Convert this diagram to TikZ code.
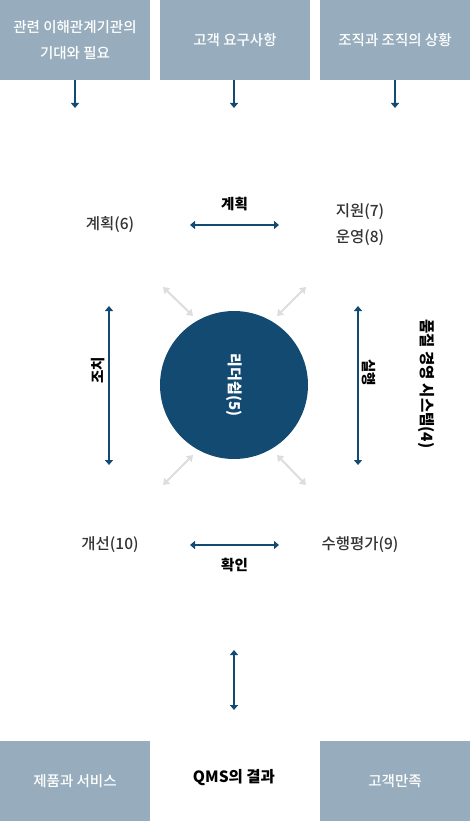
\documentclass[tikz,border=0pt]{standalone}
\usepackage{fontspec}
\setmainfont{Noto Sans CJK KR}
\newfontfamily\medfont{Noto Sans CJK KR Medium}
\usetikzlibrary{arrows.meta,positioning}
\definecolor{boxgray}{HTML}{97ADBD}
\definecolor{navy}{HTML}{134A72}
\definecolor{txtgray}{HTML}{333333}
\definecolor{hintgray}{HTML}{DDDDDD}

\begin{document}
\begin{tikzpicture}[x=1pt,y=-1pt,>={Triangle[width=8pt,length=5pt]},
  box/.style={fill=boxgray,minimum width=150pt,minimum height=80pt,inner sep=0pt,
    text=white,font=\medfont\fontsize{14.5}{26}\selectfont,align=center},
  lbl/.style={text=txtgray,font=\medfont\fontsize{15.5}{26}\selectfont},
  head/.style={text=black,font=\fontsize{14.5}{20}\selectfont\bfseries},
  flow/.style={<->,navy,line width=2pt},
  feed/.style={->,navy,line width=2pt},
  hint/.style={<->,hintgray,line width=2pt,>={Triangle[width=8pt,length=6pt]}}]
  \useasboundingbox (0,0) rectangle (470,821);
  % inputs
  \node[box] (needs) at (75,40) {관련 이해관계기관의\\기대와 필요};
  \node[box] (req) at (235,40) {고객 요구사항};
  \node[box] (ctx) at (395,40) {조직과 조직의 상황};
  \coordinate (needsin) at (75,108);
  \coordinate (reqin) at (234,108);
  \coordinate (ctxin) at (395,108);
  \draw[feed] (needs.south -| needsin) -- (needsin);
  \draw[feed] (req.south -| reqin) -- (reqin);
  \draw[feed] (ctx.south -| ctxin) -- (ctxin);
  % cycle
  \node[circle,fill=navy,minimum size=148pt,inner sep=0pt,rotate=-90,
    text=white,font=\fontsize{15}{20}\selectfont\bfseries] (lead) at (234,385) {리더쉽(5)};
  \node[lbl] (plan) at (110,225) {계획(6)};
  \node[lbl,align=center] (supp) at (360,225) {지원(7)\\운영(8)};
  \node[lbl] (impr) at (110,545) {개선(10)};
  \node[lbl] (eval) at (360,545) {수행평가(9)};
  \coordinate (pa) at (190,225);
  \coordinate (pb) at (279,225);
  \coordinate (ca) at (190,545);
  \coordinate (cb) at (279,545);
  \coordinate (aa) at (109,306);
  \coordinate (ab) at (109,465);
  \coordinate (da) at (358,306);
  \coordinate (db) at (358,465);
  \draw[flow] (pa) -- node[head,above=10pt] (plantxt) {계획} (pb);
  \draw[flow] (ca) -- node[head,below=9pt] (checktxt) {확인} (cb);
  \draw[flow] (aa) -- node[head,rotate=90,above=15pt] (acttxt) {조치} (ab);
  \draw[flow] (da) -- node[head,rotate=-90,above=13pt] (dotxt) {실행} (db);
  \node[head,font=\fontsize{15.5}{20}\selectfont\bfseries] [rotate=-90] (qms) at (426,384) {품질 경영 시스템(4)};
  % leadership links
  \coordinate (nwa) at (163,287);
  \coordinate (nwb) at (193,316);
  \coordinate (nea) at (306,287);
  \coordinate (neb) at (277,316);
  \coordinate (swa) at (193,455);
  \coordinate (swb) at (163,485);
  \coordinate (sea) at (277,455);
  \coordinate (seb) at (306,485);
  \draw[hint] (nwa) -- (nwb);
  \draw[hint] (nea) -- (neb);
  \draw[hint] (swa) -- (swb);
  \draw[hint] (sea) -- (seb);
  % outputs
  \coordinate (oa) at (234,650);
  \coordinate (ob) at (234,710);
  \draw[flow] (oa) -- (ob);
  \node[box] (prod) at (75,781) {제품과 서비스};
  \node[head,font=\fontsize{15.5}{20}\selectfont\bfseries] (res) at (234,778) {QMS의 결과};
  \node[box] (sat) at (395,781) {고객만족};
\end{tikzpicture}
\end{document}
